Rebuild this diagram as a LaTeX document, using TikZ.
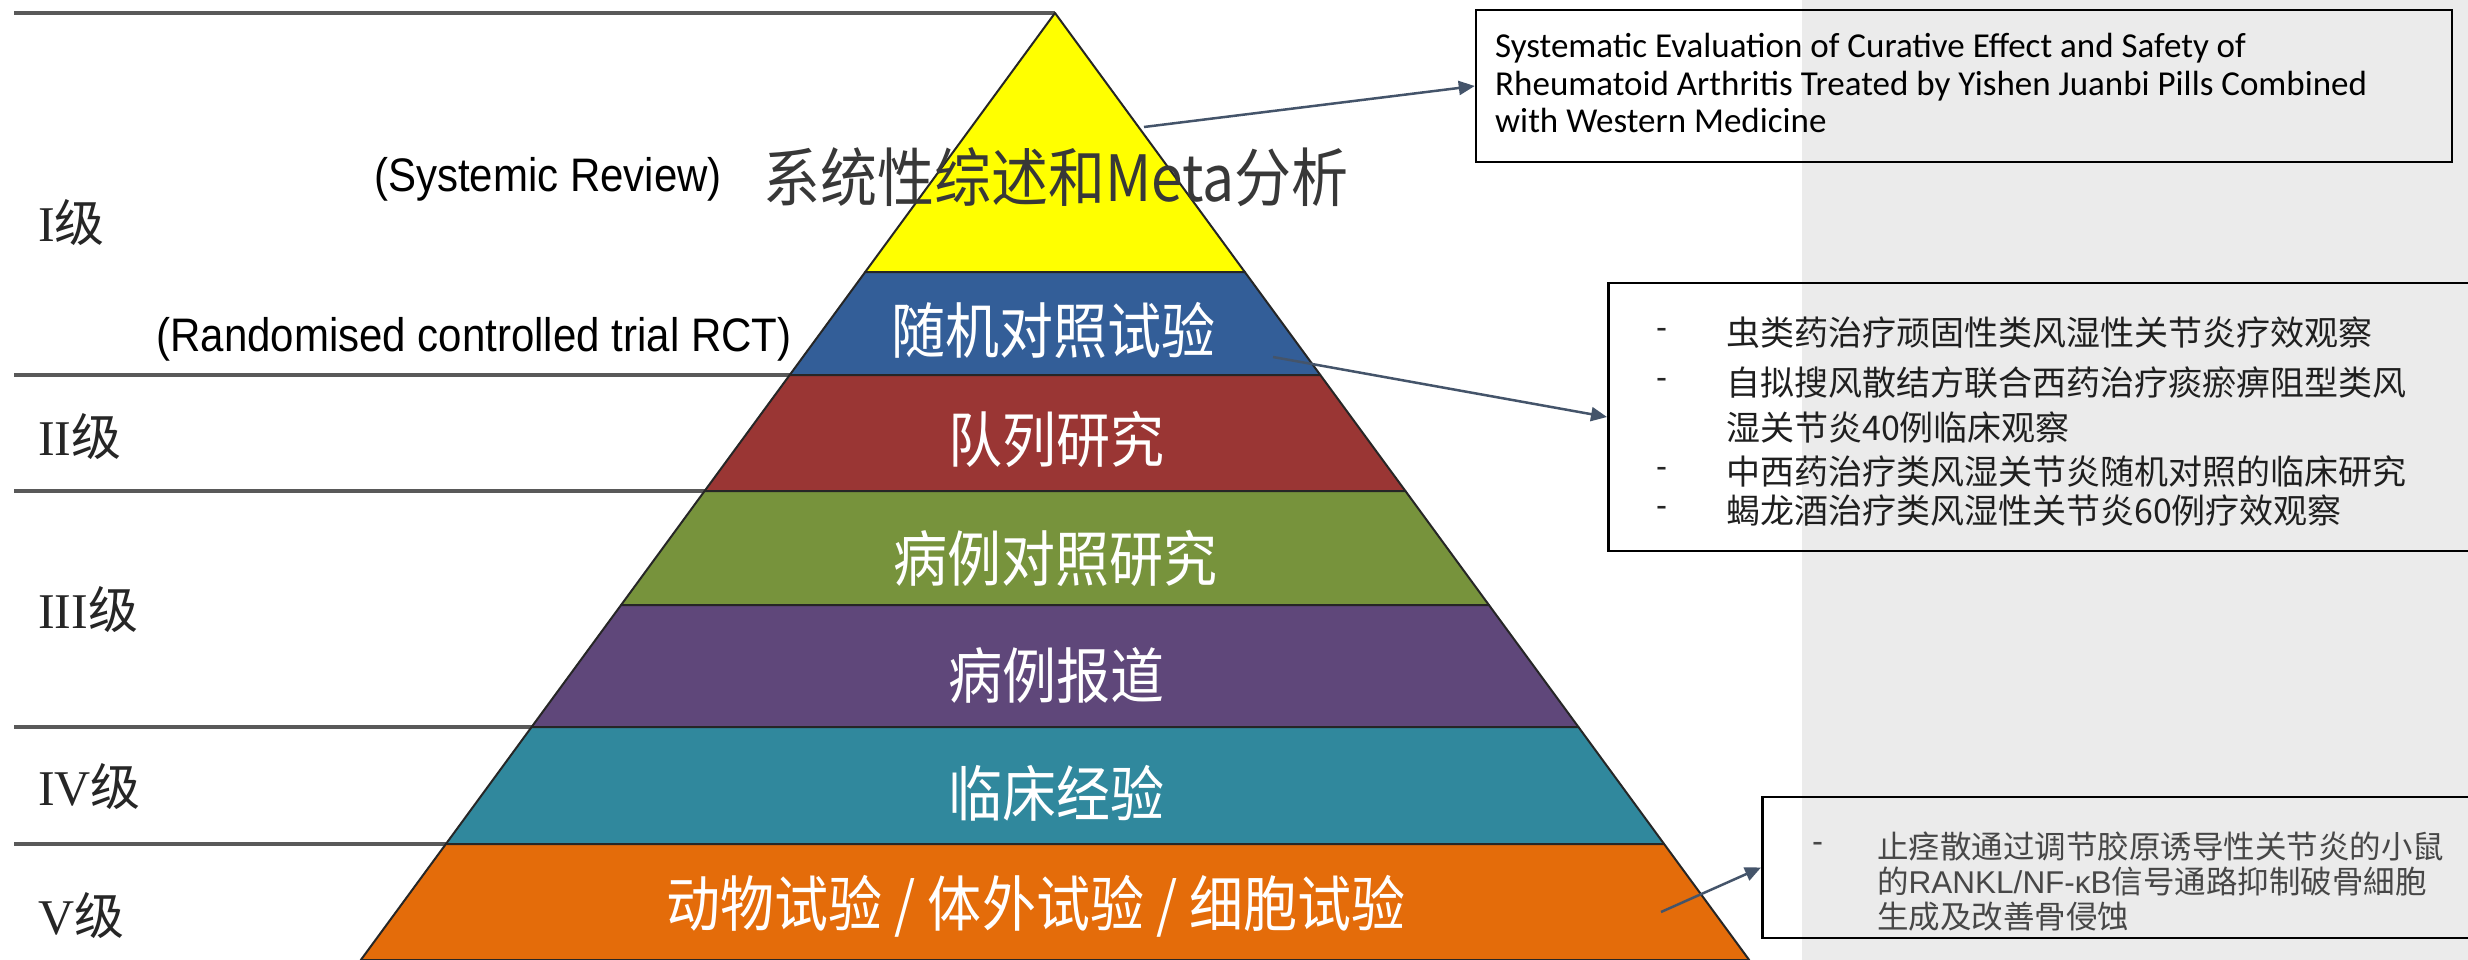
\documentclass[tikz,border=0pt]{standalone}
\usepackage{fontspec}
\setmainfont{Liberation Sans}
\newfontfamily\cjk{Noto Sans CJK SC}
\newfontfamily\arialf{Liberation Sans}
\newfontfamily\calib{Carlito}
\newfontfamily\serifr{Liberation Serif}
\usetikzlibrary{arrows.meta}
\definecolor{cyel}{HTML}{FFFF00}
\definecolor{cblue}{HTML}{335E98}
\definecolor{cred}{HTML}{9A3634}
\definecolor{cgreen}{HTML}{77933C}
\definecolor{cpurple}{HTML}{5F477A}
\definecolor{cteal}{HTML}{30889D}
\definecolor{corange}{HTML}{E46C0A}
\definecolor{carrow}{HTML}{44546A}
\definecolor{cline}{HTML}{595959}
\definecolor{ctexture}{HTML}{EBEBEB}
\newcommand{\tallt}[1]{\scalebox{1}[1.12]{#1}}
\tikzset{
  band/.style={draw=black!85, line width=2pt, line join=round},
  hline/.style={draw=cline, line width=4pt},
  lvl/.style={anchor=west, inner sep=0, font=\serifr\fontsize{50}{52}\selectfont, text=black!85},
  pyr/.style={inner sep=0, font=\cjk\fontsize{54}{56}\selectfont, text=white},
  capt/.style={inner sep=0, font=\arialf\fontsize{42}{44}\selectfont, text=black},
  rbox/.style={draw=black, line width=2.5pt, inner sep=0},
  arr/.style={draw=carrow, line width=2.5pt, -{Triangle[length=16pt,width=14pt]}},
  bline/.style={anchor=base west, inner sep=0, font=\calib\fontsize{35}{37}\selectfont, text=black},
  cjkl/.style={anchor=west, inner sep=0, font=\cjk\fontsize{34}{36}\selectfont, text=black!88},
  cjks/.style={anchor=west, inner sep=0, font=\cjk\fontsize{31.5}{33}\selectfont, text=black!72},
  hyph/.style={anchor=west, inner sep=0, font=\arialf\fontsize{33}{35}\selectfont, text=black!85}
}
\begin{document}
\begin{tikzpicture}[x=1pt,y=-1pt]
\useasboundingbox (0,0) rectangle (2468,960);
\clip (0,0) rectangle (2468,960);
\fill[white] (0,0) rectangle (2468,960);
\fill[ctexture] (1802,0) rectangle (2468,960);

% level separator lines
\draw[hline] (14,13) -- (1055,13);
\draw[hline] (14,375) -- (789.7,375);
\draw[hline] (14,491) -- (704.6,491);
\draw[hline] (14,727) -- (531.6,727);
\draw[hline] (14,844) -- (445.9,844);

% pyramid bands
\filldraw[band, fill=cyel] (1055,13) -- (1244.8,272) -- (865.2,272) -- cycle;
\filldraw[band, fill=cblue] (865.2,272) -- (1244.8,272) -- (1320.3,375) -- (789.7,375) -- cycle;
\filldraw[band, fill=cred] (789.7,375) -- (1320.3,375) -- (1405.4,491) -- (704.6,491) -- cycle;
\filldraw[band, fill=cgreen] (704.6,491) -- (1405.4,491) -- (1488.9,605) -- (621.1,605) -- cycle;
\filldraw[band, fill=cpurple] (621.1,605) -- (1488.9,605) -- (1578.4,727) -- (531.6,727) -- cycle;
\filldraw[band, fill=cteal] (531.6,727) -- (1578.4,727) -- (1664.1,844) -- (445.9,844) -- cycle;
\filldraw[band, fill=corange] (445.9,844) -- (1664.1,844) -- (1749.2,960) -- (360.8,960) -- cycle;

% level labels
\node[lvl] (l1) at (38,223) {I{\cjk 级}};
\node[lvl] (l2) at (38,437) {II{\cjk 级}};
\node[lvl] (l3) at (38,610) {III{\cjk 级}};
\node[lvl] (l4) at (38,787) {IV{\cjk 级}};
\node[lvl] (l5) at (38,916) {V{\cjk 级}};

% pyramid texts
\node[pyr, text=black!78, font=\cjk\fontsize{57}{59}\selectfont] (tmeta) at (1056,177) {\tallt{系统性综述和Meta分析}};
\node[pyr] (trct) at (1053,330) {\tallt{随机对照试验}};
\node[pyr] (tcoh) at (1056,439) {\tallt{队列研究}};
\node[pyr] (tcc) at (1055,558) {\tallt{病例对照研究}};
\node[pyr] (tcr) at (1056,675) {\tallt{病例报道}};
\node[pyr] (tce) at (1056,793) {\tallt{临床经验}};
\node[pyr] (tan) at (1036,906) {\tallt{动物试验 / 体外试验 / 细胞试验}};

% english captions
\node[capt] (csr) at (548,179) {\tallt{(Systemic Review)}};
\node[capt] (crct) at (474,339) {\tallt{(Randomised controlled trial RCT)}};

% boxes
\node[rbox, minimum width=976pt, minimum height=152pt] (box1) at (1964,86) {};
\node[rbox, anchor=west, minimum width=900pt, minimum height=268pt] (box2) at (1607,417) {};
\node[rbox, anchor=west, minimum width=760pt, minimum height=141pt] (box3) at (1761,867.5) {};

% box 1 text
\node[bline] (b1a) at (1495,58) {Systematic Evaluation of Curative Effect and Safety of};
\node[bline] (b1b) at (1495,96) {Rheumatoid Arthritis Treated by Yishen Juanbi Pills Combined};
\node[bline] (b1c) at (1495,133) {with Western Medicine};

% box 2 text
\node[hyph] (h2a) at (1656,333) {-};
\node[hyph] (h2b) at (1656,383) {-};
\node[hyph] (h2d) at (1656,472) {-};
\node[hyph] (h2e) at (1656,511) {-};
\node[cjkl] (b2a) at (1726,333) {虫类药治疗顽固性类风湿性关节炎疗效观察};
\node[cjkl] (b2b) at (1726,383) {自拟搜风散结方联合西药治疗痰瘀痹阻型类风};
\node[cjkl] (b2c) at (1726,428) {湿关节炎40例临床观察};
\node[cjkl] (b2d) at (1726,472) {中西药治疗类风湿关节炎随机对照的临床研究};
\node[cjkl] (b2e) at (1726,511) {蝎龙酒治疗类风湿性关节炎60例疗效观察};

% box 3 text
\node[hyph, text=black!72] (h3a) at (1812,847) {-};
\node[cjks] (b3a) at (1877,847) {止痉散通过调节胶原诱导性关节炎的小鼠};
\node[cjks] (b3b) at (1877,882) {的{\arialf RANKL/NF-κB}信号通路抑制破骨細胞};
\node[cjks] (b3c) at (1877,917) {生成及改善骨侵蚀};

% arrows
\coordinate (a1s) at (1144,127);
\coordinate (a2s) at (1273,357);
\coordinate (a3s) at (1661,912);
\draw[arr] (a1s) -- (box1.west);
\draw[arr] (a2s) -- (box2.west);
\draw[arr] (a3s) -- (box3.west);
\end{tikzpicture}
\end{document}
